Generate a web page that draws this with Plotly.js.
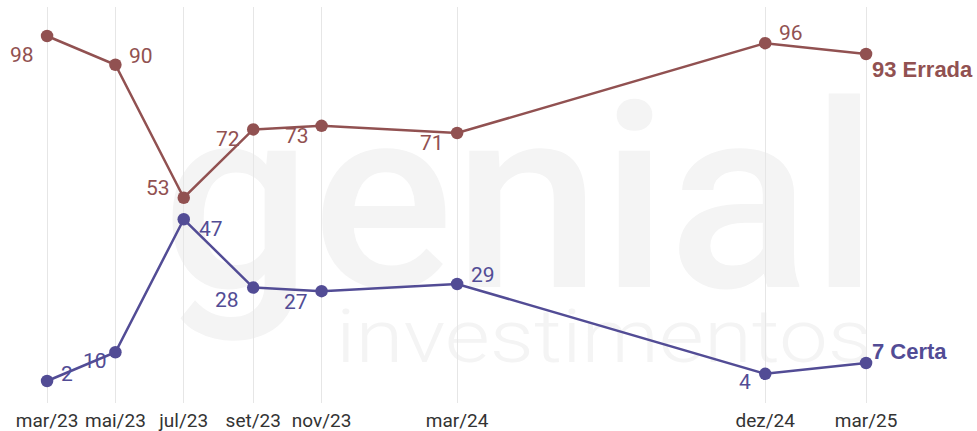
<!DOCTYPE html>
<html>
<head>
<meta charset="utf-8">
<script src="https://cdn.plot.ly/plotly-3.0.1.min.js"></script>
<style>
html,body{margin:0;padding:0;background:#fff;}
#wrap{position:relative;width:977px;height:431px;}
#wm{position:absolute;left:0;top:0;z-index:0;}
#chart{position:absolute;left:0;top:0;width:977px;height:431px;z-index:1;}
</style>
</head>
<body>
<div id="wrap">
<svg id="wm" width="977" height="431" xmlns="http://www.w3.org/2000/svg">
  <text x="162" y="287" font-family="Roboto, sans-serif" font-weight="500" font-size="258" fill="#f4f4f4" textLength="716" lengthAdjust="spacingAndGlyphs">genial</text>
  <text x="336" y="362" font-family="Roboto, sans-serif" font-weight="300" font-size="74" fill="#f4f4f4" textLength="536" lengthAdjust="spacingAndGlyphs">investimentos</text>
</svg>
<div id="chart"></div>
</div>
<script>
const dates = ["2023-03-01","2023-05-01","2023-07-01","2023-09-01","2023-11-01","2024-03-01","2024-12-01","2025-03-01"];
const tickLabels = ["mar/23","mai/23","jul/23","set/23","nov/23","mar/24","dez/24","mar/25"];
const errada = [98, 90, 53, 72, 73, 71, 96, 93];
const certa = [2, 10, 47, 28, 27, 29, 4, 7];
const erradaName = "Errada";
const certaName = "Certa";

const cErr = "#915151";
const cCer = "#524c95";

// label offsets (pixels) relative to each marker: [dx, dy(down)]
const erradaOff = [[-25,19],[26,-9],[-26,-10],[-25,10],[-25,10],[-25,10],[26,-10],[4,16]];
const certaOff  = [[20,-7],[-20,9],[27,10],[-26,12],[-26,11],[26,-9],[-20,8],[4,-12]];

const DAY = 86400000;
const x0 = new Date("2023-03-01").getTime() - 42*DAY;
const x1 = new Date("2025-03-01").getTime() + 99*DAY;

function series(vals, name, color){
  return {x: dates, y: vals, type:"scatter", mode:"lines+markers", name: name,
   line:{color:color, width:2.5}, marker:{color:color, size:12.5}, cliponaxis:false, hoverinfo:"skip"};
}
function labelAnns(vals, name, color, offs){
  return vals.map((v,i)=>{
    const last = i===vals.length-1;
    return {x: dates[i], y: v, xref:"x", yref:"y", showarrow:false,
      text: last ? "<b>"+v+" "+name+"</b>" : String(v),
      xanchor: last ? "left" : "center", yanchor:"middle",
      xshift: offs[i][0], yshift: -offs[i][1],
      font: last ? {family:"Liberation Sans, Arial, sans-serif", size:22, color:color}
                 : {family:"Roboto, Liberation Sans, sans-serif", size:21, color:color}};
  });
}

const traces = [series(errada, erradaName, cErr), series(certa, certaName, cCer)];

const layout = {
  width:977, height:431,
  margin:{l:0, r:0, t:7, b:28},
  paper_bgcolor:"rgba(0,0,0,0)", plot_bgcolor:"rgba(0,0,0,0)",
  showlegend:false,
  hovermode:false,
  xaxis:{type:"date", range:[x0, x1], tickvals: dates, ticktext: tickLabels,
         showgrid:true, gridcolor:"#e6e6e6", gridwidth:1, zeroline:false, showline:false,
         ticks:"", ticklabelstandoff:4,
         tickfont:{family:"Roboto, Liberation Sans, sans-serif", size:19, color:"#333"}, fixedrange:true},
  yaxis:{range:[-4.12, 106.07], showgrid:false, zeroline:false, showticklabels:false, showline:false, fixedrange:true},
  annotations: labelAnns(errada, erradaName, cErr, erradaOff).concat(labelAnns(certa, certaName, cCer, certaOff))
};
Plotly.newPlot("chart", traces, layout, {displayModeBar:false, staticPlot:true});
</script>
</body>
</html>
